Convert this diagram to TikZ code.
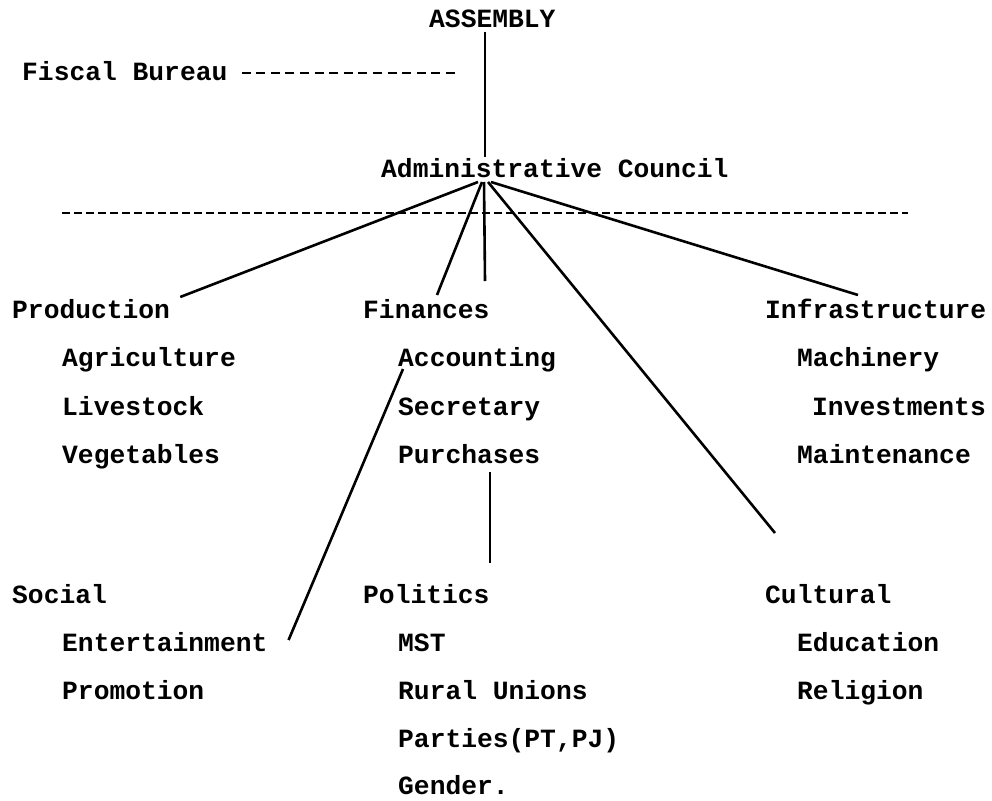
\documentclass[tikz,border=0pt]{standalone}
\usepackage{fontspec}
\setmainfont{Liberation Mono}
\usetikzlibrary{calc}
\begin{document}
\begin{tikzpicture}[x=1pt,y=-1pt,
  lbl/.style={anchor=base west,inner sep=0pt,font=\fontsize{26.3}{26.3}\selectfont\bfseries},
  conn/.style={line width=2.6pt},
  dline/.style={line width=2.4pt,dash pattern=on 8pt off 4pt},
  fline/.style={line width=2.4pt,dash pattern=on 9pt off 5.6pt}]
\useasboundingbox (0,0) rectangle (992,800);
% nodes
\node[lbl] (assembly) at (429,28) {ASSEMBLY};
\node[lbl] (fiscal) at (22,80) {Fiscal Bureau};
\node[lbl] (admin) at (381,177) {Administrative Council};
\node[lbl] (production) at (12,318) {Production};
\node[lbl] (finances) at (363,318) {Finances};
\node[lbl] (infra) at (765,318) {Infrastructure};
\node[lbl] (agri) at (62,366) {Agriculture};
\node[lbl] (accounting) at (398,366) {Accounting};
\node[lbl] (machinery) at (797,366) {Machinery};
\node[lbl] (livestock) at (62,415) {Livestock};
\node[lbl] (secretary) at (398,415) {Secretary};
\node[lbl] (investments) at (812,415) {Investments};
\node[lbl] (vegetables) at (62,463) {Vegetables};
\node[lbl] (purchases) at (398,463) {Purchases};
\node[lbl] (maintenance) at (797,463) {Maintenance};
\node[lbl] (social) at (12,603) {Social};
\node[lbl] (politics) at (363,603) {Politics};
\node[lbl] (cultural) at (765,603) {Cultural};
\node[lbl] (entertainment) at (62,651) {Entertainment};
\node[lbl] (mst) at (398,651) {MST};
\node[lbl] (education) at (797,651) {Education};
\node[lbl] (promotion) at (62,699) {Promotion};
\node[lbl] (rural) at (398,699) {Rural Unions};
\node[lbl] (religion) at (797,699) {Religion};
\node[lbl] (parties) at (398,747) {Parties(PT,PJ)};
\node[lbl] (gender) at (398,794) {Gender.};
% dashed lines
\coordinate (dl) at (62,213);
\coordinate (dr) at (908,213);
\draw[dline] (dl) -- (dr);
\draw[fline] ($(fiscal.base east)+(14,-7)$) -- ($(fiscal.base east)+(232,-7)$);
% connectors
\draw[conn] ($(assembly.base west)+(56,4)$) -- ($(admin.base west)+(104,-20)$);
\draw[conn] ($(admin.base west)+(97,5)$) -- ($(production.base east)+(10,-21)$);
\draw[conn] ($(admin.base west)+(101,5)$) -- ($(finances.base west)+(74,-23)$);
\draw[conn] ($(admin.base west)+(103,5)$) -- ($(finances.base west)+(122,-37)$);
\draw[conn] ($(admin.base west)+(107,5)$) -- ($(cultural.base west)+(10,-70)$);
\draw[conn] ($(admin.base west)+(110,5)$) -- ($(infra.base west)+(93,-23)$);
\draw[conn] ($(accounting.base west)+(5,3)$) -- ($(entertainment.base east)+(21,-11)$);
\draw[conn] ($(purchases.base west)+(92,9)$) -- ($(politics.base west)+(127,-40)$);
\end{tikzpicture}
\end{document}
